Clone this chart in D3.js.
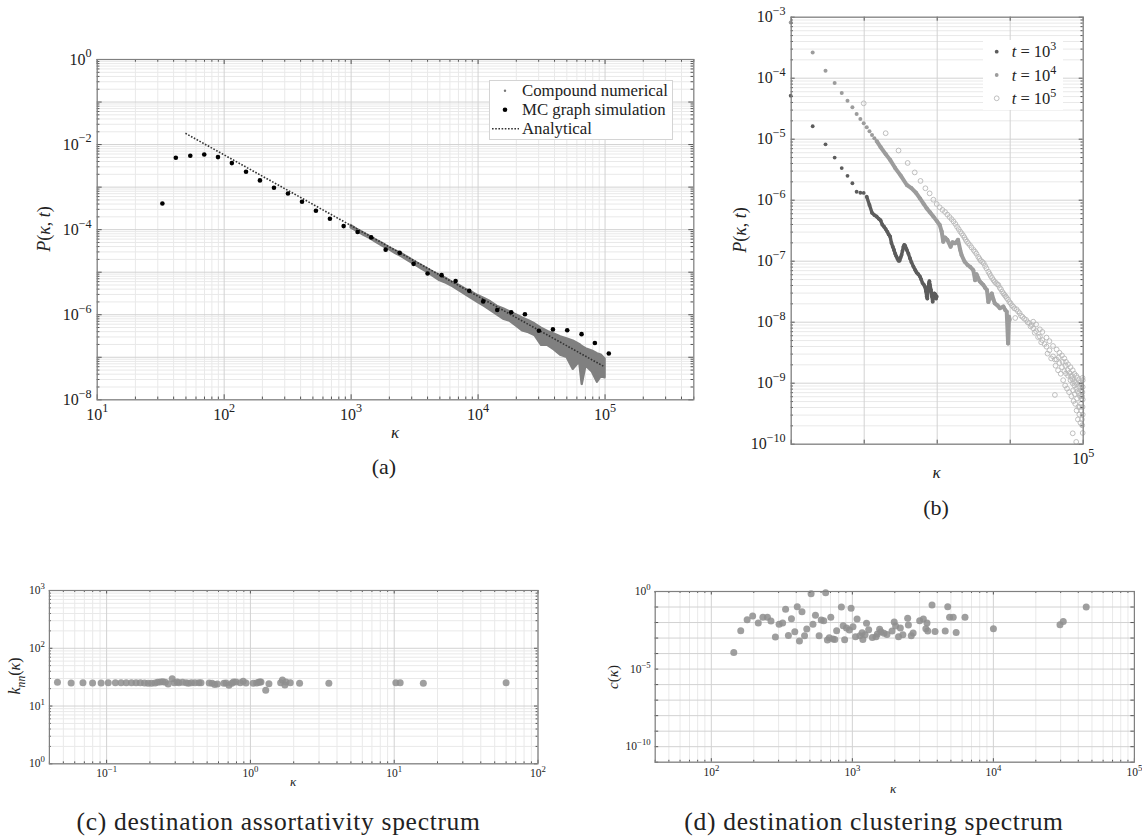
<!DOCTYPE html>
<html><head><meta charset="utf-8">
<script src="https://cdn.jsdelivr.net/npm/d3@7"></script>
<style>
body{margin:0;background:#fff;}
svg text{font-family:"Liberation Serif","Times New Roman",serif;fill:#222;}
</style></head><body>
<svg id="fig" width="1142" height="837"></svg>
<script>
// ================= DATA =================
// Panel (a)
const aMcK = [32.9,42,54.6,70.3,90.2,116,150,193,249,321,414,533,687,881,1135,1452,1888,2432,3133,4036,5207,6714,8590,11070,14280,18400,23600,30400,39200,50800,65900,83900,108000];
const aMcP = [4.0e-4,4.76e-3,5.3e-3,5.7e-3,4.94e-3,3.57e-3,2.23e-3,1.40e-3,9.4e-4,6.9e-4,4.4e-4,2.7e-4,1.75e-4,1.18e-4,8.6e-5,6.4e-5,3.3e-5,2.77e-5,1.53e-5,9.1e-6,8.3e-6,6.0e-6,3.54e-6,2.0e-6,1.26e-6,1.11e-6,1.0e-6,4.1e-7,4.4e-7,4.2e-7,3.4e-7,2.1e-7,1.19e-7];
const aCompK = [1000,1122,1259,1413,1585,1778,1995,2239,2512,2818,3162,3548,3981,4467,5012,5623,6310,7079,7943,8913,10000,11220,12590,14130,15850,17780,19950,22390,25120,28180,31620,35480,39810,44670,50120,56230,63100,66070,70790,79430,87100,93330,100000];
const aCompHi = [1.26e-4,1.0e-4,8.3e-5,6.9e-5,5.6e-5,4.7e-5,3.8e-5,3.2e-5,2.7e-5,2.2e-5,1.78e-5,1.48e-5,1.2e-5,1.0e-5,8.3e-6,7.1e-6,5.75e-6,4.9e-6,4.0e-6,3.4e-6,2.8e-6,2.4e-6,2.0e-6,1.58e-6,1.38e-6,1.17e-6,1.0e-6,8.3e-7,7.2e-7,6.0e-7,4.8e-7,4.0e-7,3.5e-7,3.0e-7,2.7e-7,2.4e-7,2.0e-7,1.78e-7,1.58e-7,1.4e-7,1.2e-7,1.12e-7,9.1e-8];
const aCompLo = [1.10e-4,9.1e-5,7.4e-5,6.2e-5,5.0e-5,4.1e-5,3.4e-5,2.75e-5,2.3e-5,1.86e-5,1.51e-5,1.23e-5,1.0e-5,7.9e-6,6.3e-6,5.5e-6,4.6e-6,3.7e-6,3.0e-6,2.4e-6,1.95e-6,1.58e-6,1.26e-6,1.0e-6,7.9e-7,7.1e-7,5.5e-7,4.2e-7,3.8e-7,3.2e-7,1.9e-7,1.9e-7,1.5e-7,1.12e-7,1.0e-7,5.2e-8,7.9e-8,2.3e-8,6.3e-8,4.5e-8,2.6e-8,3.5e-8,3.3e-8];
const aAnaK = [50, 100000];
const aAnaP = [1.79e-2, 5.8e-8];
const aLegend = ["Compound numerical", "MC graph simulation", "Analytical"];
const aXLabelExp = [1,2,3,4,5];
const aYLabelExp = [0,-2,-4,-6,-8];

// Panel (b)
const b3K = [10,20,30,40,50,60,70,80,90,100,110,120,130,140,150,160,170,180,190,200,210,220,230,240,250,260,270,280,290,300,310,320,330,340,350,360,370,380,390,410,430,450,480,510,530,560,590,610,640,670,690,710,730,744,760,780,794,810,836,860,881,900,927,960,980,1000];
const b3P = [5.07e-5,1.6e-5,8.1e-6,4.9e-6,3.3e-6,2.46e-6,1.86e-6,1.35e-6,1.3e-6,1.29e-6,1.12e-6,8.2e-7,6.1e-7,5.6e-7,5.3e-7,4.9e-7,4.6e-7,3.9e-7,3.6e-7,3.3e-7,3.0e-7,2.7e-7,2.5e-7,1.95e-7,1.7e-7,1.5e-7,1.3e-7,1.18e-7,1.08e-7,1.0e-7,1.0e-7,1.12e-7,1.24e-7,1.45e-7,1.7e-7,1.82e-7,1.75e-7,1.6e-7,1.5e-7,1.3e-7,1.1e-7,9.5e-8,8.0e-8,7.0e-8,6.4e-8,6.0e-8,5.5e-8,5.0e-8,4.3e-8,4.0e-8,3.75e-8,3.2e-8,2.6e-8,2.4e-8,3.2e-8,4.2e-8,4.6e-8,4.0e-8,3.3e-8,2.6e-8,2.13e-8,2.5e-8,2.9e-8,2.8e-8,2.4e-8,2.6e-8];
const b4K = [10,20,30,40,50,60,70,80,90,100,110,120,130,140,150,170,200,230,270,320,390,450,520,590,660,730,810,900,1000,1100,1170,1230,1300,1400,1550,1650,1790,1960,2100,2190,2420,2650,2880,3170,3360,3510,3700,3880,4100,4360,4600,4880,5100,5400,5680,6000,6250,6800,7340,8200,8700,9100,9500,9800,10000];
const b4P = [8.0e-4,2.6e-4,1.3e-4,8.2e-5,5.6e-5,4.2e-5,3.27e-5,2.55e-5,2.1e-5,1.79e-5,1.54e-5,1.32e-5,1.15e-5,1.02e-5,9.2e-6,7.3e-6,5.6e-6,4.5e-6,3.3e-6,2.5e-6,1.74e-6,1.55e-6,1.3e-6,1.05e-6,8.6e-7,7.2e-7,6.2e-7,5.3e-7,4.5e-7,3.85e-7,3.0e-7,2.05e-7,2.4e-7,2.2e-7,1.7e-7,2.0e-7,1.93e-7,2.2e-7,1.5e-7,1.24e-7,9.6e-8,8.5e-8,7.9e-8,7.0e-8,4.8e-8,6.0e-8,5.2e-8,4.6e-8,4.3e-8,4.0e-8,3.6e-8,3.3e-8,2.1e-8,2.6e-8,2.9e-8,2.3e-8,2.0e-8,1.85e-8,1.66e-8,1.77e-8,1.55e-8,1.46e-8,4.4e-9,1.2e-8,1.07e-8];
const b5K = [100,200,300,400,500,600,700,800,900,1000,1100,1200,1300,1400,1500,1600,1700,1800,1900,2000,2100,2200,2300,2400,2500,2600,2700,2850,3000,3200,3350,3500,3700,3850,4000,4200,4400,4600,4800,5100,5300,5500,5750,6000,6250,6500,6750,7000,7300,7600,7900,8200,8500,8800,9100,9500,9900,10300,10700,11200,11600,11900,12400,13000,13700,14300,15000,15800,16800,17600,18500,19300,20000,21000,21000,22000,23000,23000,24500,25900,25900,27000,28000,28000,30000,31900,31900,33000,35000,35000,37000,39200,39200,41600,41600,42500,44000,44000,46000,48000,48000,50000,52000,52000,54000,56000,56000,57500,59000,59000,61000,63000,63000,65000,68000,68000,70000,71000,73000,73000,73000,75000,77000,77000,79000,81500,81500,81500,82500,85000,85000,86000,87500,88700,88700,90000,92000,92000,93000,95000,96000,96000,97500,99000,100000,100000,100000,100000,100000,47000,53000,58000,62000,66000,69000,72000,74000,76000,78000,80000,83500,84000,89500,91000,94000,95500,98000,98500,99500,99500];
const b5P = [3.8e-5,1.23e-5,6.4e-6,4.0e-6,2.8e-6,2.03e-6,1.54e-6,1.27e-6,1.0e-6,8.5e-7,7.5e-7,6.8e-7,6.3e-7,5.7e-7,5.2e-7,4.8e-7,4.4e-7,4.0e-7,3.6e-7,3.3e-7,3.0e-7,2.8e-7,2.6e-7,2.4e-7,2.2e-7,2.05e-7,1.93e-7,1.8e-7,1.65e-7,1.5e-7,1.4e-7,1.3e-7,1.16e-7,1.08e-7,1.0e-7,9.6e-8,9.1e-8,8.2e-8,7.5e-8,6.6e-8,6.1e-8,5.6e-8,5.2e-8,4.8e-8,4.5e-8,4.3e-8,4.1e-8,4.0e-8,3.6e-8,3.4e-8,3.1e-8,2.9e-8,2.75e-8,2.6e-8,2.45e-8,2.3e-8,2.1e-8,2.0e-8,1.85e-8,1.76e-8,1.65e-8,1.15e-8,1.6e-8,1.48e-8,1.38e-8,1.25e-8,1.2e-8,1.12e-8,1.07e-8,9.8e-9,9.5e-9,8.4e-9,8.8e-9,7.8e-9,1.0e-8,6.6e-9,7.0e-9,9.0e-9,5.6e-9,5.7e-9,7.5e-9,4.6e-9,5.0e-9,6.8e-9,4.3e-9,3.9e-9,5.5e-9,3.0e-9,3.4e-9,4.8e-9,2.5e-9,2.7e-9,4.0e-9,6.3e-10,2.4e-9,1.9e-9,2.4e-9,3.5e-9,1.6e-9,2.1e-9,3.1e-9,1.4e-9,1.8e-9,2.8e-9,1.1e-9,1.55e-9,2.5e-9,9e-10,1.42e-9,2.2e-9,8e-10,1.3e-9,2.0e-9,7e-10,1.1e-9,1.8e-9,6e-10,1.3e-9,9.8e-10,1.6e-9,1.48e-10,5e-10,9e-10,1.4e-9,4.5e-10,8e-10,1.3e-9,1.07e-10,3.5e-10,7.2e-10,1.2e-9,2.5e-10,4e-10,6.7e-10,1.1e-9,3e-10,6e-10,1.0e-9,2.2e-10,4.5e-10,5.5e-10,9e-10,2.5e-10,7e-10,5.3e-10,8.5e-10,3e-10,1.5e-10,1.1e-9,2.6e-9,2.2e-9,1.9e-9,1.6e-9,1.45e-9,1.25e-9,1.15e-9,7.5e-10,1.05e-9,6.5e-10,1.0e-9,5.5e-10,9.5e-10,8.5e-10,4.0e-10,7.5e-10,3.5e-10,6.0e-10,2.0e-10,4.0e-10,1.2e-9];
const bSeriesExp = [3,4,5];
const bXLabelExp = [5];
const bYLabelExp = [-3,-4,-5,-6,-7,-8,-9,-10];

// Panel (c)
const cK = [0.0459,0.0571,0.069,0.0805,0.0923,0.1035,0.116,0.127,0.138,0.150,0.1615,0.173,0.185,0.196,0.207,0.219,0.228,0.238,0.248,0.258,0.270,0.288,0.298,0.312,0.321,0.340,0.360,0.374,0.392,0.415,0.442,0.457,0.521,0.546,0.569,0.594,0.659,0.682,0.715,0.748,0.769,0.800,0.857,0.898,0.939,1.054,1.115,1.148,1.174,1.194,1.288,1.356,1.636,1.683,1.751,1.782,1.909,2.215,3.54,10.35,11.09,16.07,60.5];
const cKnn = [25.2,24.5,24.8,24.5,24.5,24.8,24.8,24.8,24.8,24.8,24.8,24.8,24.5,24.2,24.2,24.5,25.2,25.5,25.8,25.2,23.5,29.1,24.8,25.5,24.8,25.2,24.8,24.2,24.8,24.8,24.8,24.8,24.5,24.2,23.2,23.5,24.2,24.5,22.4,24.2,25.5,25.5,24.8,26.2,24.5,24.2,24.5,25.2,25.5,25.5,18.3,23.8,24.8,27.6,22.6,25.5,24.8,24.2,24.2,24.8,24.8,24.2,24.8];
const cXLabelExp = [-1,0,1,2];
const cYLabelExp = [0,1,2,3];

// Panel (d)
const dK = [145.5,163,181,198,217,234,252,267,287,305,323,339,355,373,394,410,425,443,462,479,514,530,552,586,607,632,652,671,692,709,734,757,780,843,868,889,916,960,988,1019,1062,1089,1141,1183,1197,1241,1271,1316,1397,1483,1517,1574,1610,1690,1774,1928,1997,2043,2143,2208,2301,2488,2517,2638,2720,3027,3214,3348,3410,3454,3703,3890,4593,4786,4933,5235,5491,6344,10090,29920,31560,45900];
const dC = [1.1e-4,2.75e-3,1.4e-2,2.44e-2,8.6e-3,2.0e-2,2.0e-2,1.16e-2,1.07e-3,7.1e-3,8.6e-3,6.6e-2,1.38e-3,1.64e-2,2.4e-3,9.7e-2,5.9e-4,4.6e-2,1.31e-3,3.5e-3,0.67,7.1e-3,2.7e-2,1.31e-3,1.35e-2,1.22e-2,0.78,6.9e-4,9.8e-4,2.0e-2,8.0e-4,7.6e-4,2.75e-3,9.3e-2,5.8e-3,7.2e-4,4.1e-3,3.05e-3,7.6e-2,5e-3,1.13e-3,1.56e-2,1.31e-3,2.05e-3,7.6e-4,1.52e-3,8.2e-3,3.2e-3,1.02e-3,1.13e-3,1.68e-3,3.4e-3,2.4e-3,1.86e-3,1.6e-3,2.6e-3,1e-2,5.5e-3,1.13e-3,4.1e-3,1.52e-3,1.73e-2,6.4e-3,1.31e-3,1.95e-3,1.22e-2,1.56e-2,3.7e-3,8.6e-3,2.6e-3,0.125,2.5e-3,2.6e-3,9.7e-2,2.0e-2,2.0e-2,2.15e-3,2.0e-2,3.7e-3,6.7e-3,1.1e-2,9.3e-2];
const dXLabelExp = [2,3,4,5];
const dYLabelExp = [0,-5,-10];

const captions = ["(a)", "(b)", "(c) destination assortativity spectrum", "(d) destination clustering spectrum"];

// ================= DRAWING =================
const svg = d3.select("#fig");
svg.append("rect").attr("width",1142).attr("height",837).attr("fill","#fff");
const MINOR_C = "#e9e9e9", MAJOR_C = "#d2d2d2", FRAME_C = "#808080", TICK_C = "#555";

function decades(d){const a=[];for(let e=Math.round(Math.log10(d[0])+0.4999);e<=Math.floor(Math.log10(d[1])+1e-9);e++)a.push(Math.pow(10,e));return a;}
function minors(d){const a=[];for(let e=Math.floor(Math.log10(d[0])+1e-9);e<Math.ceil(Math.log10(d[1])-1e-9);e++)for(let m=2;m<=9;m++){const v=m*Math.pow(10,e);if(v>=d[0]*0.9999&&v<=d[1]*1.0001)a.push(v);}return a;}

function powLabels(sel, fs, exps){
  sel.attr("font-family",null).attr("font-size",null);
  sel.selectAll(".tick text").each(function(d){
    const e = Math.round(Math.log10(d));
    const t = d3.select(this).attr("fill","#222").style("font-size",fs+"px");
    t.text(null);
    if(!exps.includes(e)) return;
    t.append("tspan").text("10");
    t.append("tspan").attr("dy",(-fs*0.45)+"px").style("font-size",(fs*0.76)+"px").text(e<0?"\u2212"+(-e):String(e));
  });
}

function panel(P){
  const g = svg.append("g");
  const x = d3.scaleLog().domain(P.xd).range([P.l,P.r]);
  const y = d3.scaleLog().domain(P.yd).range([P.b,P.t]);
  const W = P.r-P.l, H = P.b-P.t;
  const xMaj = decades(P.xd), yMaj = decades(P.yd), xMin = minors(P.xd), yMin = minors(P.yd);
  const gridG = g.append("g");
  function grid(gen, vals, col, tr){
    gridG.append("g").attr("transform",tr).call(gen.tickValues(vals).tickFormat("").tickSizeOuter(0))
      .call(s=>{s.select(".domain").remove(); s.selectAll("line").attr("stroke",col);});
  }
  if(P.xMinorGrid) grid(d3.axisBottom(x).tickSizeInner(-H), xMin, MINOR_C, `translate(0,${P.b})`);
  if(P.yMinorGrid) grid(d3.axisLeft(y).tickSizeInner(-W), yMin, MINOR_C, `translate(${P.l},0)`);
  grid(d3.axisBottom(x).tickSizeInner(-H), xMaj, MAJOR_C, `translate(0,${P.b})`);
  grid(d3.axisLeft(y).tickSizeInner(-W), yMaj, MAJOR_C, `translate(${P.l},0)`);
  const dataG = g.append("g");
  const axG = g.append("g");
  P.draw && P.draw(dataG, x, y);
  function ticks(gen, vals, len, tr, fmtExps, pad){
    const a = axG.append("g").attr("transform",tr).call(gen.tickValues(vals).tickSizeInner(-len).tickSizeOuter(0).tickPadding(pad||0).tickFormat(fmtExps? (d=>"x"):""));
    a.select(".domain").remove();
    a.selectAll("line").attr("stroke",TICK_C);
    if(fmtExps) powLabels(a, P.fs, fmtExps); else a.selectAll("text").remove();
    return a;
  }
  ticks(d3.axisBottom(x), xMaj, P.tk, `translate(0,${P.b})`, P.xLab, P.padX);
  ticks(d3.axisTop(x), xMaj, P.tk, `translate(0,${P.t})`, null);
  ticks(d3.axisLeft(y), yMaj, P.tk, `translate(${P.l},0)`, P.yLab, P.padY);
  ticks(d3.axisRight(y), yMaj, P.tk, `translate(${P.r},0)`, null);
  if(P.xMinorTick){
    ticks(d3.axisBottom(x), xMin, P.tk*0.55, `translate(0,${P.b})`, null);
    ticks(d3.axisTop(x), xMin, P.tk*0.55, `translate(0,${P.t})`, null);
  }
  if(P.yMinorTick){
    ticks(d3.axisLeft(y), yMin, P.tk*0.55, `translate(${P.l},0)`, null);
    ticks(d3.axisRight(y), yMin, P.tk*0.55, `translate(${P.r},0)`, null);
  }
  axG.append("rect").attr("x",P.l+0.5).attr("y",P.t+0.5).attr("width",W).attr("height",H)
    .attr("fill","none").attr("stroke",FRAME_C).attr("stroke-width",1.2);
  return {g,x,y};
}

function mathLabel(x, y, parts, fs, rot){
  const t = svg.append("text").attr("text-anchor","middle").style("font-size",fs+"px")
    .attr("transform",`translate(${x},${y})`+(rot?` rotate(${rot})`:""));
  let cur = 0;
  parts.forEach(p=>{
    const s = t.append("tspan").text(p[0]);
    if(p[1]) s.style("font-style","italic");
    let target = 0;
    if(p[2]==="sub") { target = fs*0.3; s.style("font-size",(fs*0.72)+"px"); }
    if(p[2]==="sup") { target = -fs*0.42; s.style("font-size",(fs*0.72)+"px"); }
    if(target!==cur){ s.attr("dy",(target-cur)+"px"); cur = target; }
  });
  return t;
}
function caption(x, y, s, fs, ls){
  svg.append("text").attr("x",x).attr("y",y).attr("text-anchor","middle").style("font-size",fs+"px")
    .style("letter-spacing",(ls||0)+"px").text(s);
}

// ---------- Panel (a) ----------
panel({l:96.7, r:693.3, t:59, b:399.3, xd:[10,5e5], yd:[1e-8,1], fs:16, padX:9, padY:5, tk:5,
  xMinorGrid:true, yMinorGrid:true, xMinorTick:true, yMinorTick:true,
  xLab:aXLabelExp, yLab:aYLabelExp,
  draw:(g,x,y)=>{
    const comp = aCompK.map((k,i)=>({k, lo:aCompLo[i], hi:aCompHi[i]}));
    g.append("path").datum(comp).attr("fill","#808080").attr("stroke","#808080").attr("stroke-width",2.4).attr("stroke-linejoin","round")
      .attr("d", d3.area().x(d=>x(d.k)).y0(d=>y(d.lo)).y1(d=>y(d.hi)));
    g.append("path").datum(aAnaK.map((k,i)=>[k,aAnaP[i]])).attr("fill","none").attr("stroke","#333")
      .attr("stroke-width",1.6).attr("stroke-dasharray","1.6,1.6")
      .attr("d", d3.line().x(d=>x(d[0])).y(d=>y(d[1])));
    g.selectAll("circle.mc").data(aMcK.map((k,i)=>[k,aMcP[i]])).join("circle")
      .attr("cx",d=>x(d[0])).attr("cy",d=>y(d[1])).attr("r",2.3).attr("fill","#000");
  }});
(function(){
  const g = svg.append("g");
  g.append("rect").attr("x",489.5).attr("y",80.5).attr("width",183).attr("height",59).attr("fill","#fff").attr("stroke","#d4d4d4");
  const rows = [90.7, 109.7, 128.7];
  g.append("circle").attr("cx",505).attr("cy",rows[0]).attr("r",1.2).attr("fill","#777");
  g.append("circle").attr("cx",505).attr("cy",rows[1]).attr("r",2.3).attr("fill","#000");
  g.append("line").attr("x1",492).attr("x2",519).attr("y1",rows[2]).attr("y2",rows[2]).attr("stroke","#333").attr("stroke-width",1.6).attr("stroke-dasharray","1.6,1.6");
  aLegend.forEach((s,i)=>g.append("text").attr("x",522).attr("y",rows[i]+5.5).style("font-size","16.8px").text(s));
})();
mathLabel(50, 229, [["P",true],["(",false],["κ",true],[", ",false],["t",true],[")",false]], 18, -90);
mathLabel(395, 438, [["κ",true]], 17, 0);
caption(384, 474, captions[0], 22);

// ---------- Panel (b) ----------
const bColors = ["#5c5c5c","#9c9c9c","#b8b8b8"];
panel({l:790.7, r:1082.7, t:16.7, b:443.7, xd:[10,1e5], yd:[1e-10,1e-3], fs:16, padX:9, padY:5, tk:4,
  xMinorGrid:false, yMinorGrid:true, xMinorTick:false, yMinorTick:true,
  xLab:bXLabelExp, yLab:bYLabelExp,
  draw:(g,x,y)=>{
    const s3 = b3K.map((k,i)=>[k,b3P[i]]), s4 = b4K.map((k,i)=>[k,b4P[i]]), s5 = b5K.map((k,i)=>[k,b5P[i]]);
    const line = d3.line().x(d=>x(d[0])).y(d=>y(d[1]));
    g.selectAll("circle.s5").data(s5).join("circle").attr("class","s5")
      .attr("cx",d=>x(d[0])).attr("cy",d=>y(d[1])).attr("r",2.4).attr("fill","none").attr("stroke",bColors[2]).attr("stroke-width",0.9);
    g.append("path").datum(s4.filter(d=>d[0]>=150)).attr("fill","none").attr("stroke",bColors[1]).attr("stroke-width",4).attr("stroke-linejoin","round").attr("d",line);
    g.selectAll("circle.s4").data(s4).join("circle").attr("class","s4")
      .attr("cx",d=>x(d[0])).attr("cy",d=>y(d[1])).attr("r",2).attr("fill",bColors[1]);
    g.append("path").datum(s3.filter(d=>d[0]>=110)).attr("fill","none").attr("stroke",bColors[0]).attr("stroke-width",3.4).attr("stroke-linejoin","round").attr("d",line);
    g.selectAll("circle.s3").data(s3).join("circle").attr("class","s3")
      .attr("cx",d=>x(d[0])).attr("cy",d=>y(d[1])).attr("r",1.9).attr("fill",bColors[0]);
  }});
(function(){
  const g = svg.append("g");
  g.append("rect").attr("x",983).attr("y",40).attr("width",80).attr("height",70).attr("fill","#fff");
  const rows=[51.7,75,98.3];
  bSeriesExp.forEach((e,i)=>{
    if(i<2) g.append("circle").attr("cx",996.7).attr("cy",rows[i]).attr("r",1.9).attr("fill",bColors[i]);
    else g.append("circle").attr("cx",996.7).attr("cy",rows[i]).attr("r",2.4).attr("fill","none").attr("stroke",bColors[i]).attr("stroke-width",0.9);
    const t = g.append("text").attr("x",1011.7).attr("y",rows[i]+5.5).style("font-size","16.5px");
    t.append("tspan").style("font-style","italic").text("t");
    t.append("tspan").text(" = 10");
    t.append("tspan").attr("dy","-7px").style("font-size","12px").text(String(e));
  });
})();
mathLabel(746, 230, [["P",true],["(",false],["κ",true],[", ",false],["t",true],[")",false]], 18, -90);
mathLabel(936.7, 478, [["κ",true]], 17, 0);
caption(936, 515, captions[1], 22);

// ---------- Panel (c) ----------
panel({l:48.9, r:537.5, t:590, b:763.3, xd:[0.04,100], yd:[1,1000], fs:11.5, padX:6, padY:4, tk:3.5,
  xMinorGrid:true, yMinorGrid:true, xMinorTick:true, yMinorTick:true,
  xLab:cXLabelExp, yLab:cYLabelExp,
  draw:(g,x,y)=>{
    g.selectAll("circle").data(cK.map((k,i)=>[k,cKnn[i]])).join("circle")
      .attr("cx",d=>x(d[0])).attr("cy",d=>y(d[1])).attr("r",3.5).attr("fill","#8e8e8e").attr("fill-opacity",0.85);
  }});
mathLabel(20, 676, [["k",true],["nn",true,"sub"],["(",false,null],["κ",true],[")",false]], 16, -90);
mathLabel(293, 786, [["κ",true]], 13, 0);
caption(278.6, 830, captions[2], 25.5, 0.7);

// ---------- Panel (d) ----------
panel({l:654.7, r:1133.9, t:591, b:761.7, xd:[40,1e5], yd:[1e-11,1], fs:11.5, padX:6, padY:4, tk:3.5,
  xMinorGrid:true, yMinorGrid:false, xMinorTick:true, yMinorTick:false,
  xLab:dXLabelExp, yLab:dYLabelExp,
  draw:(g,x,y)=>{
    g.selectAll("circle").data(dK.map((k,i)=>[k,dC[i]])).join("circle")
      .attr("cx",d=>x(d[0])).attr("cy",d=>y(d[1])).attr("r",3.5).attr("fill","#8e8e8e").attr("fill-opacity",0.85);
  }});
mathLabel(618, 677, [["c",true],["(",false],["κ",true],[")",false]], 15, -90);
mathLabel(893, 793, [["κ",true]], 13, 0);
caption(874, 830, captions[3], 25.5, 0.7);
</script>
</body></html>
